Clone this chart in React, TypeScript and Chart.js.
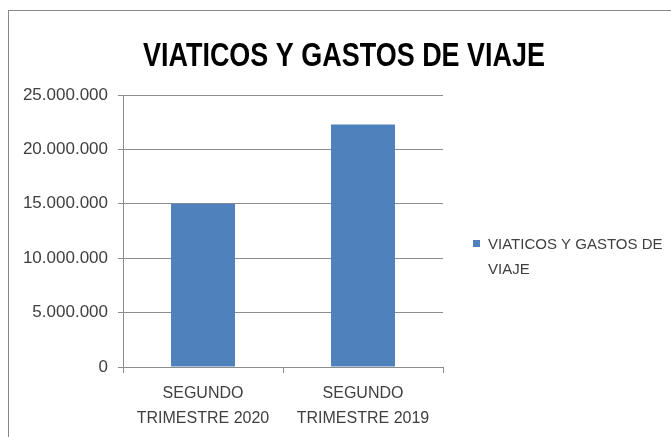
import { useEffect, useRef } from 'react';
import { Chart, registerables } from 'chart.js';

Chart.register(...registerables);

const TITLE = 'VIATICOS Y GASTOS DE VIAJE';
const SERIES_LABEL = 'VIATICOS Y GASTOS DE VIAJE';
const categories: string[][] = [
  ['SEGUNDO', 'TRIMESTRE 2020'],
  ['SEGUNDO', 'TRIMESTRE 2019'],
];
const values: number[] = [15000000, 22300000];
const yMin = 0;
const yMax = 25000000;
const yStep = 5000000;
const BAR_COLOR = '#4F81BD';
const GRID_COLOR = '#8C8C8C';
const TEXT_COLOR = '#404040';
const FONT = '"Liberation Sans", Arial, sans-serif';

const fmt = (v: number) => String(Math.round(v)).replace(/\B(?=(\d{3})+(?!\d))/g, '.');

const titlePlugin = {
  id: 'centeredTitle',
  afterDraw(chart: any) {
    const ctx = chart.ctx as CanvasRenderingContext2D;
    ctx.save();
    ctx.font = `bold 34px ${FONT}`;
    ctx.fillStyle = '#000000';
    ctx.textAlign = 'center';
    ctx.textBaseline = 'alphabetic';
    const w = ctx.measureText(TITLE).width;
    const targetW = 402;
    const sx = Math.min(1, targetW / w);
    const cx = chart.width / 2 + 4;
    ctx.translate(cx, 55);
    ctx.scale(sx, 1);
    ctx.fillText(TITLE, 0, 0);
    ctx.restore();
  },
};

const sideLegend = {
  id: 'sideLegend',
  afterDraw(chart: any) {
    const ctx = chart.ctx as CanvasRenderingContext2D;
    const ds = chart.data.datasets[0];
    const area = chart.chartArea;
    const boxX = area.right + 30;
    const boxY = 229;
    const textX = boxX + 15;
    const lineH = 25;
    const firstLineY = 234;
    ctx.save();
    ctx.fillStyle = ds.backgroundColor;
    ctx.fillRect(boxX, boxY, 7, 7);
    ctx.font = `15px ${FONT}`;
    ctx.fillStyle = TEXT_COLOR;
    ctx.textBaseline = 'middle';
    ctx.textAlign = 'left';
    const maxW = chart.width - textX - 4;
    const words = String(ds.label).split(' ');
    const lines: string[] = [];
    let cur = '';
    for (const w of words) {
      const test = cur ? cur + ' ' + w : w;
      if (ctx.measureText(test).width > maxW && cur) {
        lines.push(cur);
        cur = w;
      } else {
        cur = test;
      }
    }
    if (cur) lines.push(cur);
    lines.forEach((l, i) => ctx.fillText(l, textX, firstLineY + i * lineH));
    ctx.restore();
  },
};

export default function App() {
  const ref = useRef<HTMLCanvasElement>(null);
  useEffect(() => {
    if (!ref.current) return;
    const chart = new Chart(ref.current, {
      type: 'bar',
      data: {
        labels: categories,
        datasets: [
          {
            label: SERIES_LABEL,
            data: values,
            backgroundColor: BAR_COLOR,
            borderWidth: 0,
            categoryPercentage: 0.8,
            barPercentage: 0.5,
          },
        ],
      },
      options: {
        responsive: false,
        animation: false,
        layout: { padding: { left: 0, right: 228, top: 84, bottom: 0 } },
        plugins: {
          legend: { display: false },
          tooltip: { enabled: false },
          title: { display: false },
        },
        scales: {
          x: {
            grid: {
              offset: true,
              drawOnChartArea: false,
              drawTicks: true,
              tickLength: 6,
              color: GRID_COLOR,
            },
            border: { display: true, color: GRID_COLOR },
            ticks: {
              color: TEXT_COLOR,
              font: { family: FONT, size: 16, lineHeight: 1.55 },
              padding: 8,
              maxRotation: 0,
              autoSkip: false,
            },
            afterFit(scale: any) {
              scale.height = 70;
            },
          },
          y: {
            min: yMin,
            max: yMax,
            grid: {
              color: GRID_COLOR,
              drawTicks: true,
              tickLength: 5,
            },
            border: { display: true, color: GRID_COLOR },
            ticks: {
              stepSize: yStep,
              color: TEXT_COLOR,
              font: { family: FONT, size: 17 },
              padding: 10,
              callback: (v: any) => fmt(Number(v)),
            },
            afterFit(scale: any) {
              scale.width = 114;
            },
          },
        },
      },
      plugins: [titlePlugin, sideLegend],
    } as any);
    return () => chart.destroy();
  }, []);
  return (
    <div
      style={{
        position: 'absolute',
        left: 8,
        top: 10,
        width: 663,
        height: 427,
        borderLeft: '1px solid #888888',
        borderTop: '1px solid #888888',
        background: '#ffffff',
      }}
    >
      <canvas ref={ref} width={662} height={426} style={{ display: 'block' }} />
    </div>
  );
}
